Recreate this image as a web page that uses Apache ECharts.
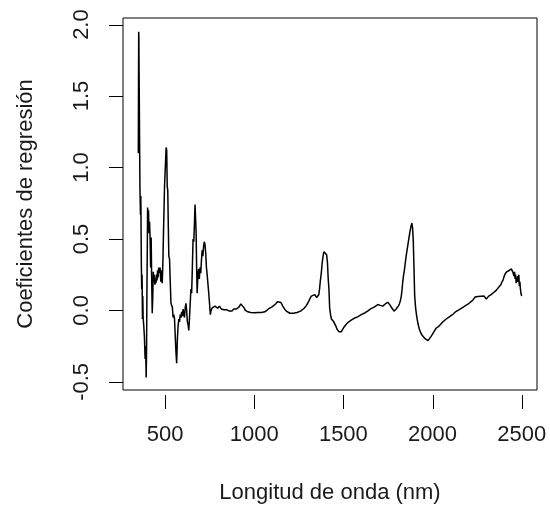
<!DOCTYPE html>
<html>
<head>
<meta charset="utf-8">
<script src="https://cdn.jsdelivr.net/npm/echarts@6/dist/echarts.min.js"></script>
<style>
html,body{margin:0;padding:0;background:#fff;}
#chart{width:550px;height:509px;}
</style>
</head>
<body>
<div id="chart"></div>
<script>
// Wavelength (nm)
const wavelength = [
350,351,352,353,354,355,357,359,362,364,367,369,371,373,375,377,380,384,388,391,394,396,398,400,402,405,407,410,413,416,419,422,425,428,431,434,437,440,443,446,449,452,455,458,461,464,468,472,476,480,484,488,491,494,497,500,503,506,509,512,515,518,521,525,529,533,537,541,545,549,553,557,561,565,569,573,577,581,585,589,593,597,601,605,609,613,617,621,625,629,633,637,641,645,649,653,657,661,665,668,671,674,677,680,684,688,692,696,700,704,708,712,716,720,724,728,732,736,740,745,750,754,758,762,766,770,775,780,785,790,795,800,805,810,815,820,825,830,835,840,845,850,855,860,865,870,875,880,885,890,895,900,905,910,915,920,925,930,935,940,945,950,955,960,965,970,975,980,985,990,1000,1010,1020,1030,1040,1050,1060,1070,1080,1090,1100,1110,1120,1130,1140,1150,1160,1170,1180,1190,1200,1210,1220,1230,1240,1250,1260,1270,1280,1290,1300,1310,1320,1330,1340,1350,1357,1362,1366,1371,1376,1381,1386,1391,1396,1401,1406,1411,1415,1419,1423,1428,1433,1440,1446,1452,1458,1464,1470,1476,1482,1488,1495,1502,1509,1516,1523,1530,1537,1544,1553,1560,1570,1580,1591,1600,1610,1620,1628,1636,1645,1655,1665,1675,1685,1693,1700,1707,1714,1721,1728,1735,1742,1749,1756,1763,1770,1777,1784,1790,1796,1802,1808,1814,1820,1825,1829,1833,1838,1842,1847,1852,1857,1862,1867,1873,1878,1884,1888,1892,1896,1900,1905,1911,1918,1926,1935,1944,1952,1960,1968,1975,1982,1990,2000,2010,2020,2030,2038,2047,2056,2066,2075,2084,2094,2103,2112,2121,2131,2140,2150,2159,2168,2178,2187,2196,2205,2215,2225,2232,2239,2246,2255,2264,2271,2280,2288,2296,2302,2308,2315,2322,2329,2336,2343,2350,2357,2364,2370,2376,2383,2390,2396,2402,2407,2411,2416,2420,2425,2429,2434,2438,2442,2446,2450,2454,2457,2460,2463,2466,2469,2472,2475,2478,2481,2484,2487,2490,2493,2496,2500
];
// Regression coefficients
const coefficients = [
1.10,1.55,1.95,1.92,1.69,1.55,1.20,0.86,0.67,0.80,0.31,0.15,0.25,-0.06,0.10,-0.05,-0.10,-0.18,-0.34,-0.25,-0.47,-0.30,0.10,0.40,0.72,0.60,0.70,0.54,0.62,0.50,0.30,0.51,0.20,-0.02,0.10,0.27,0.20,0.25,0.18,0.22,0.19,0.25,0.21,0.28,0.23,0.30,0.26,0.30,0.20,0.28,0.19,0.35,0.54,0.70,0.87,0.88,1.05,1.14,1.12,0.87,0.84,0.60,0.38,0.36,0.20,0.05,0.04,0.02,-0.05,-0.03,-0.06,-0.18,-0.29,-0.37,-0.20,-0.11,-0.06,-0.08,-0.03,-0.05,-0.01,-0.04,0.01,-0.03,-0.05,0.02,0.05,0.00,-0.08,-0.10,-0.14,-0.05,0.05,0.15,0.12,0.30,0.50,0.48,0.62,0.74,0.73,0.55,0.30,0.12,0.25,0.29,0.22,0.30,0.26,0.35,0.42,0.38,0.45,0.48,0.46,0.40,0.30,0.25,0.24,0.12,0.11,-0.03,0.00,0.00,0.02,0.025,0.02,0.03,0.02,0.025,0.015,0.02,0.03,0.02,0.01,0.015,0.00,0.005,-0.005,0.00,0.005,-0.005,0.00,-0.005,0.00,0.005,-0.005,0.005,0.01,0.005,0.015,0.01,0.02,0.015,0.025,0.035,0.045,0.04,0.03,0.025,0.015,0.00,0.005,-0.005,-0.01,-0.015,-0.02,-0.015,-0.02,-0.02,-0.017,-0.02,-0.015,-0.02,-0.015,-0.01,-0.01,0.00,0.01,0.02,0.025,0.035,0.045,0.06,0.069,0.055,0.03,0.01,-0.005,-0.015,-0.02,-0.022,-0.02,-0.018,-0.015,-0.01,-0.005,0.005,0.015,0.03,0.05,0.075,0.10,0.105,0.11,0.09,0.08,0.11,0.145,0.21,0.26,0.33,0.38,0.41,0.42,0.41,0.39,0.33,0.22,0.15,0.02,-0.03,-0.06,-0.07,-0.08,-0.09,-0.11,-0.13,-0.14,-0.15,-0.155,-0.15,-0.135,-0.12,-0.11,-0.097,-0.09,-0.08,-0.075,-0.068,-0.062,-0.055,-0.05,-0.045,-0.04,-0.03,-0.025,-0.018,-0.012,-0.005,0.00,0.012,0.018,0.025,0.035,0.041,0.04,0.035,0.028,0.03,0.038,0.045,0.052,0.057,0.05,0.035,0.02,0.01,-0.005,0.00,0.01,0.02,0.03,0.045,0.07,0.10,0.145,0.20,0.25,0.28,0.33,0.38,0.42,0.46,0.50,0.548,0.58,0.61,0.58,0.49,0.30,0.10,0.02,-0.04,-0.09,-0.13,-0.16,-0.178,-0.19,-0.20,-0.21,-0.212,-0.20,-0.185,-0.166,-0.145,-0.125,-0.115,-0.108,-0.095,-0.083,-0.072,-0.062,-0.055,-0.045,-0.038,-0.03,-0.018,-0.008,0.00,0.006,0.011,0.02,0.03,0.035,0.042,0.05,0.057,0.07,0.08,0.094,0.09,0.098,0.095,0.099,0.095,0.10,0.088,0.08,0.09,0.10,0.105,0.11,0.117,0.125,0.135,0.14,0.145,0.16,0.17,0.18,0.20,0.214,0.24,0.255,0.265,0.27,0.265,0.275,0.279,0.27,0.285,0.29,0.28,0.27,0.26,0.24,0.27,0.22,0.25,0.19,0.23,0.20,0.24,0.20,0.25,0.17,0.20,0.15,0.12,0.10
];
const xTicks = [500, 1000, 1500, 2000, 2500];
const yTicks = [-0.5, 0.0, 0.5, 1.0, 1.5, 2.0];

const seriesData = wavelength.map((w, i) => [w, coefficients[i]]);

const chart = echarts.init(document.getElementById('chart'), null, {renderer: 'canvas'});
const fontFamily = 'Liberation Sans, Arial, sans-serif';
const textColor = '#1a1a1a';
const GRID = {left: 123, right: 13, top: 18, bottom: 114};
const TICK_LEN = 14;
chart.setOption({
  animation: false,
  backgroundColor: '#ffffff',
  grid: Object.assign({show: true, borderColor: '#000', borderWidth: 1, backgroundColor: 'transparent'}, GRID),
  xAxis: {
    type: 'value', min: 264, max: 2586,
    axisLine: {show: false, onZero: false},
    axisTick: {show: false},
    axisLabel: {show: true, margin: 34, fontSize: 22, color: textColor, fontFamily: fontFamily, customValues: xTicks, formatter: v => String(v)},
    splitLine: {show: false},
    name: 'Longitud de onda (nm)', nameLocation: 'middle', nameGap: 92,
    nameTextStyle: {fontSize: 22, color: textColor, fontFamily: fontFamily}
  },
  yAxis: {
    type: 'value', min: -0.557, max: 2.046,
    axisLine: {show: false, onZero: false},
    axisTick: {show: false},
    axisLabel: {show: true, rotate: 90, margin: 30, fontSize: 22, color: textColor, fontFamily: fontFamily, customValues: yTicks, formatter: v => v.toFixed(1)},
    splitLine: {show: false},
    name: 'Coeficientes de regresión', nameLocation: 'middle', nameGap: 86, nameRotate: 90,
    nameTextStyle: {fontSize: 22, color: textColor, fontFamily: fontFamily}
  },
  series: [{
    type: 'line', data: seriesData, showSymbol: false, symbol: 'none',
    lineStyle: {color: '#000', width: 1.5}, silent: true
  }]
});

// Outward tick marks placed through the chart's own axis scales
const H = chart.getHeight(), W = chart.getWidth();
const yBottom = H - GRID.bottom, xLeft = GRID.left;
const tickLines = [];
xTicks.forEach(v => {
  const px = Math.round(chart.convertToPixel({xAxisIndex: 0}, v)) + 0.5;
  tickLines.push({type: 'line', shape: {x1: px, y1: yBottom, x2: px, y2: yBottom + TICK_LEN}, style: {stroke: '#000', lineWidth: 1}, silent: true});
});
yTicks.forEach(v => {
  const py = Math.round(chart.convertToPixel({yAxisIndex: 0}, v)) + 0.5;
  tickLines.push({type: 'line', shape: {x1: xLeft - TICK_LEN, y1: py, x2: xLeft, y2: py}, style: {stroke: '#000', lineWidth: 1}, silent: true});
});
chart.setOption({graphic: tickLines});
</script>
</body>
</html>
